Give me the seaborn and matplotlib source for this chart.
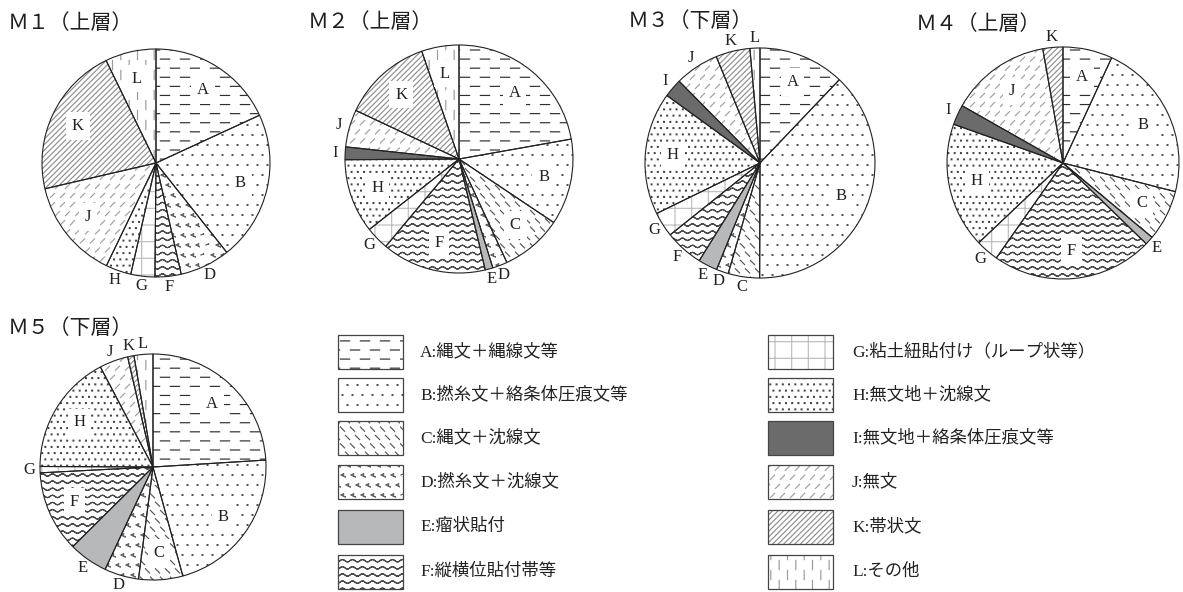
import warnings
import numpy as np
import matplotlib
matplotlib.use('Agg')
import matplotlib.pyplot as plt
import matplotlib.hatch as mhatch
from matplotlib.path import Path
from matplotlib.patches import Rectangle
import seaborn as sns

warnings.filterwarnings('ignore')

# ---- data (percent share of each pattern type) ----
categories = list('ABCDEFGHIJKL')
legend_labels = ['A:縄文＋縄線文等', 'B:撚糸文＋絡条体圧痕文等', 'C:縄文＋沈線文',
                 'D:撚糸文＋沈線文', 'E:瘤状貼付', 'F:縦横位貼付帯等',
                 'G:粘土紐貼付け（ループ状等）', 'H:無文地＋沈線文', 'I:無文地＋絡条体圧痕文等',
                 'J:無文', 'K:帯状文', 'L:その他']
titles = ['Ｍ１（上層）', 'Ｍ２（上層）', 'Ｍ３（下層）', 'Ｍ４（上層）', 'Ｍ５（下層）']

m1 = [18.1, 21.2, 0, 7.1, 0, 3.7, 3.4, 3.6, 0, 14.2, 21.4, 7.2]
m2 = [22.2, 12.2, 8.7, 2.1, 1.1, 14.8, 3.3, 10.5, 1.8, 5.3, 12.7, 5.3]
m3 = [12.1, 37.9, 4.4, 1.7, 2.7, 5.4, 3.5, 17.2, 2.6, 6.2, 4.8, 1.4]
m4 = [6.9, 22.1, 7.1, 0, 1.2, 22.5, 3.2, 17.5, 2.8, 14.0, 2.8, 0]
m5 = [24.0, 21.7, 6.3, 4.9, 5.6, 11.6, 0.9, 17.2, 0, 4.1, 0.9, 2.7]
pies = [m1, m2, m3, m4, m5]

# labels written inside the slice (the rest go outside the circle)
inside = ['ABJKL', 'ABCFHKL', 'ABH', 'ABCFHJ', 'ABCFH']


# ---- extra hatch shapes ----
# short strokes on a staggered grid: rows, cols, direction, half length (tile units)
stroke_specs = {
    'a': (11, 5, 1.0, 0.0, 0.046),     # dashed horizontal lines
    'l': (5, 12, 0.0, 1.0, 0.046),     # dashed vertical lines
    'c': (12, 10, 0.7, -0.7, 0.030),   # short back-slashes
    'j': (11, 10, 0.7, 0.7, 0.030),    # short slashes
}
# square dots on a staggered grid: rows/cols, half side
dot_specs = {'p': (10, 0.004), 'P': (16, 0.004)}


class StrokeHatch(mhatch.HatchPatternBase):
    def __init__(self, hatch, density):
        self.spec = next((stroke_specs[ch] for ch in hatch if ch in stroke_specs), None)
        self.num_vertices = 0 if self.spec is None else self.spec[0] * self.spec[1] * 2

    def set_vertices_and_codes(self, vertices, codes):
        rows, cols, ux, uy, h = self.spec
        k = 0
        for i in range(rows):
            for j in range(cols):
                if ux == 0:
                    x = (j + 0.5) / cols
                    y = (i + 0.25 + 0.5 * (j % 2)) / rows
                else:
                    x = (j + 0.25 + 0.5 * (i % 2)) / cols
                    y = (i + 0.5) / rows
                vertices[k] = (x - ux * h, y - uy * h)
                vertices[k + 1] = (x + ux * h, y + uy * h)
                codes[k] = Path.MOVETO
                codes[k + 1] = Path.LINETO
                k += 2


class DotHatch(mhatch.HatchPatternBase):
    def __init__(self, hatch, density):
        self.spec = next((dot_specs[ch] for ch in hatch if ch in dot_specs), None)
        self.num_vertices = 0 if self.spec is None else self.spec[0] ** 2 * 5

    def set_vertices_and_codes(self, vertices, codes):
        n, h = self.spec
        k = 0
        for i in range(n):
            for j in range(n):
                x = (j + 0.25 + 0.5 * (i % 2)) / n
                y = (i + 0.5) / n
                vertices[k:k + 5] = [(x - h, y - h), (x + h, y - h), (x + h, y + h), (x - h, y + h), (x - h, y - h)]
                codes[k:k + 5] = [Path.MOVETO, Path.LINETO, Path.LINETO, Path.LINETO, Path.CLOSEPOLY]
                k += 5


class WaveHatch(mhatch.HatchPatternBase):
    def __init__(self, hatch, density):
        self.num_lines = 14 if '~' in hatch else 0
        self.pts = 81
        self.num_vertices = self.num_lines * self.pts * 2

    def set_vertices_and_codes(self, vertices, codes):
        xs = np.linspace(0, 1, self.pts)
        n = self.pts * 2
        for i in range(self.num_lines):
            y = (i + 0.5) / self.num_lines + 0.012 * np.sin(xs * 2 * np.pi * 10)
            line = np.column_stack([xs, y])
            vertices[i * n:(i + 1) * n] = np.vstack([line, line[::-1]])
            codes[i * n:(i + 1) * n] = Path.LINETO
            codes[i * n] = Path.MOVETO


class ChevronHatch(mhatch.HatchPatternBase):
    def __init__(self, hatch, density):
        self.n = 10 if 'v' in hatch else 0
        self.num_vertices = self.n * self.n * 5

    def set_vertices_and_codes(self, vertices, codes):
        n = self.n
        s = 0.011
        k = 0
        for i in range(n):
            for j in range(n):
                cx = (j + 0.25 + 0.5 * (i % 2)) / n
                cy = (i + 0.5) / n
                a, b, c = (cx + s, cy + s), (cx - s, cy), (cx + s, cy - s)
                vertices[k:k + 5] = [a, b, c, b, a]
                codes[k:k + 5] = [Path.MOVETO] + [Path.LINETO] * 4
                k += 5


mhatch._hatch_types.extend([StrokeHatch, DotHatch, WaveHatch, ChevronHatch])

# fill colour, hatch, hatch colour per category
styles = {
    'A': ('white', 'a', '#2e2e2e'),
    'B': ('white', 'p', '#505050'),
    'C': ('white', 'c', '#555555'),
    'D': ('white', 'v', '#666666'),
    'E': ('#b7b8ba', '', '#b7b8ba'),
    'F': ('white', '~', '#4a4a4a'),
    'G': ('white', '+', '#bdbdbd'),
    'H': ('white', 'P', '#444444'),
    'I': ('#6b6b6b', '', '#6b6b6b'),
    'J': ('white', 'j', '#a0a0a0'),
    'K': ('white', '//////', '#8f8f8f'),
    'L': ('white', 'l', '#9a9a9a'),
}

sns.set_theme(style='white')
plt.rcParams['font.family'] = ['Noto Sans CJK JP', 'DejaVu Sans']
plt.rcParams['hatch.linewidth'] = 0.85
serif = ['Liberation Serif', 'Noto Sans CJK JP']

W, H = 1183, 592
fig = plt.figure(figsize=(W / 100, H / 100), dpi=100)
fig.patch.set_facecolor('white')

lay = fig.add_axes([0, 0, 1, 1])
lay.set_xlim(0, W)
lay.set_ylim(H, 0)
lay.axis('off')

# pie centres / radii and title baselines in pixels
centers = [(156, 163, 114), (459, 159, 114), (760, 163, 115), (1063, 163, 116), (153, 467, 113)]
title_xy = [(8, 29), (308, 28), (628, 27), (916, 30), (8, 334)]

for k, data in enumerate(pies):
    cx, cy, r = centers[k]
    lim = 1.45
    ax = fig.add_axes([(cx - lim * r) / W, 1 - (cy + lim * r) / H, 2 * lim * r / W, 2 * lim * r / H])
    vals = [v for v in data if v > 0]
    cats = [c for c, v in zip(categories, data) if v > 0]

    wedges, _ = ax.pie(vals, startangle=90, counterclock=False, wedgeprops=dict(linewidth=0))
    for w, c in zip(wedges, cats):
        fc, hatch, hc = styles[c]
        w.set_facecolor(fc)
        w.set_hatch(hatch)
        w.set_edgecolor(hc)
    ax.pie(vals, startangle=90, counterclock=False, colors=['none'] * len(vals),
           wedgeprops=dict(edgecolor='#222222', linewidth=0.8, fill=False))

    total = sum(vals)
    cum = 0
    for v, c in zip(vals, cats):
        mid = np.radians(90 - 360 * (cum + v / 2) / total)
        cum += v
        if c in inside[k]:
            d, bbox = 0.76, dict(boxstyle='square,pad=0.35', fc='white', ec='none')
        else:
            d, bbox = 1.09, None
        ax.text(d * np.cos(mid), d * np.sin(mid), c, ha='center', va='center',
                fontsize=12, family=serif, color='#222222', bbox=bbox)
    ax.set_xlim(-lim, lim)
    ax.set_ylim(-lim, lim)
    ax.axis('off')

    tx, ty = title_xy[k]
    lay.text(tx, ty, titles[k], ha='left', va='baseline', fontsize=15, color='#1e1e1e')

# ---- legend: two columns of six ----
rows_y = [352, 395, 438, 482, 527, 572]
for i, (c, lab) in enumerate(zip(categories, legend_labels)):
    col, row = divmod(i, 6)
    bx = 338 if col == 0 else 768
    tx = 420 if col == 0 else 852
    y = rows_y[row]
    fc, hatch, hc = styles[c]
    lay.add_patch(Rectangle((bx, y - 17), 65, 34, facecolor=fc, hatch=hatch, edgecolor=hc, linewidth=0))
    lay.add_patch(Rectangle((bx, y - 17), 65, 34, fill=False, edgecolor='#444444', linewidth=0.9))
    lay.text(tx, y, lab, ha='left', va='center', fontsize=12.5, family=serif, color='#222222')

fig.savefig('out.png', dpi=100, facecolor='white')
